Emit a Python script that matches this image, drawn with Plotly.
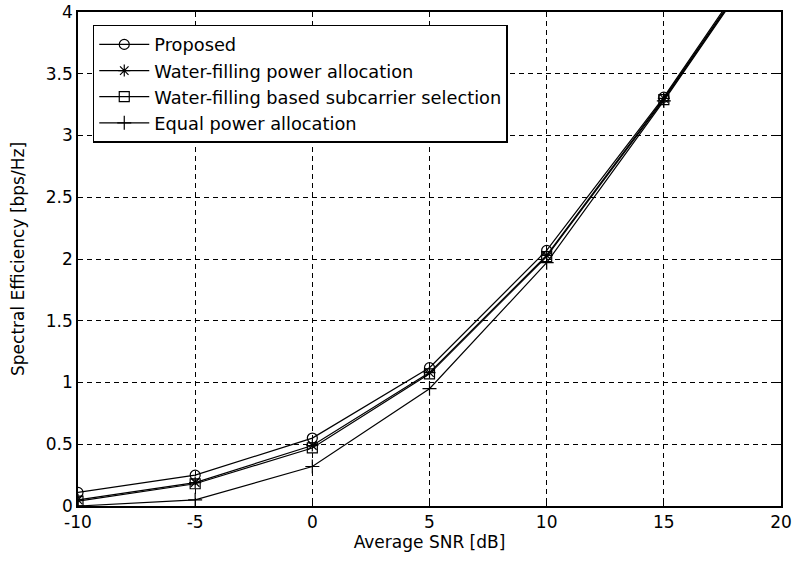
import plotly.graph_objects as go

snr = [-10, -5, 0, 5, 10, 15, 20]
proposed = [0.11, 0.25, 0.55, 1.12, 2.07, 3.31, 4.70]
wf_power = [0.05, 0.19, 0.49, 1.08, 2.03, 3.30, 4.68]
wf_subc = [0.04, 0.18, 0.47, 1.07, 2.02, 3.29, 4.67]
equal = [0.00, 0.05, 0.32, 0.95, 1.97, 3.28, 4.66]

names = ["Proposed", "Water-filling power allocation",
         "Water-filling based subcarrier selection", "Equal power allocation"]
symbols = ["circle-open", "asterisk-open", "square-open", "cross-thin-open"]
series = [proposed, wf_power, wf_subc, equal]

x_ticks = [-10, -5, 0, 5, 10, 15, 20]
x_labels = ["-10", "-5", "0", "5", "10", "15", "20"]
y_ticks = [0, 0.5, 1, 1.5, 2, 2.5, 3, 3.5, 4]
y_labels = ["0", "0.5", "1", "1.5", "2", "2.5", "3", "3.5", "4"]

FONT = "DejaVu Sans"

fig = go.Figure()
for name, ys, sym in zip(names, series, symbols):
    fig.add_trace(go.Scatter(
        x=snr, y=ys, name=name, mode="lines+markers",
        line=dict(color="black", width=1.2),
        marker=dict(symbol=sym, size=10, color="black",
                    line=dict(color="black", width=1.2)),
        cliponaxis=True,
    ))

axis_common = dict(
    showline=True, linecolor="black", linewidth=1.5, mirror="ticks",
    ticks="inside", ticklen=5, tickcolor="black",
    showgrid=True, gridcolor="black", gridwidth=1, griddash="5px,4px",
    zeroline=False, automargin=False,
    tickfont=dict(family=FONT, size=17, color="black"),
)

fig.update_layout(
    width=794, height=561,
    margin=dict(l=78, r=13, t=12, b=55),
    paper_bgcolor="white", plot_bgcolor="white",
    font=dict(family=FONT, size=17, color="black"),
    xaxis=dict(range=[-10, 20], tickvals=x_ticks, ticktext=x_labels,
               title=dict(text="Average SNR [dB]", standoff=0,
                          font=dict(size=17)), **axis_common),
    yaxis=dict(range=[0, 4], tickvals=y_ticks, ticktext=y_labels,
               title=dict(text="Spectral Efficiency [bps/Hz]", standoff=17,
                          font=dict(size=17)), **axis_common),
    legend=dict(x=0.021, y=0.974, xanchor="left", yanchor="top",
                bgcolor="white", bordercolor="black", borderwidth=1.5,
                font=dict(size=17.8), tracegroupgap=0, itemwidth=50),
    showlegend=True,
)

fig.write_html("out.html", config={"displayModeBar": False},
               post_script="document.body.style.margin='0px';document.body.style.overflow='hidden';")
